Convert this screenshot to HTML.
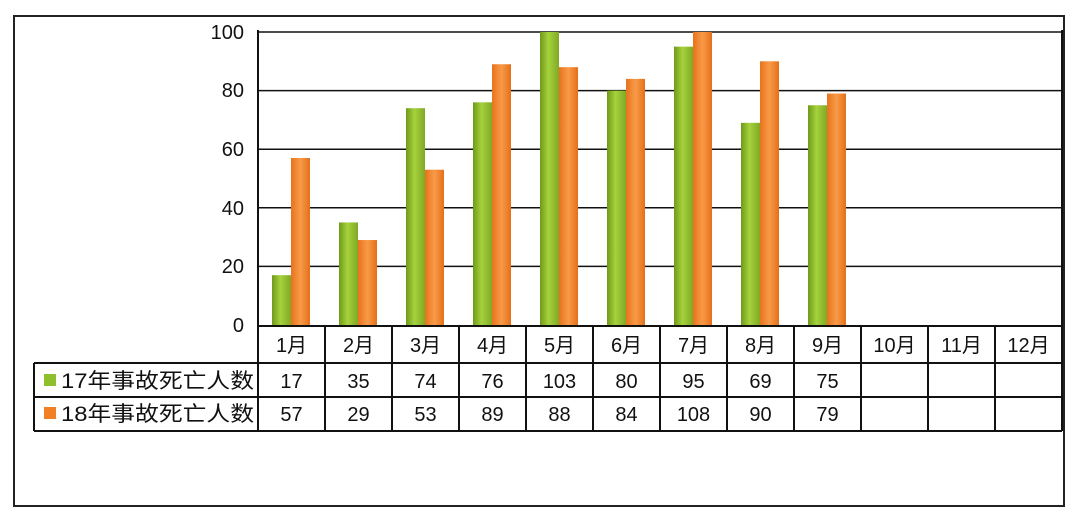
<!DOCTYPE html>
<html><head><meta charset="utf-8"><style>
html,body{margin:0;padding:0;background:#fff;width:1080px;height:524px;overflow:hidden}
text{font-family:"Liberation Sans","Noto Sans CJK SC",sans-serif;fill:#111}
</style></head><body>
<svg width="1080" height="524" viewBox="0 0 1080 524" xmlns="http://www.w3.org/2000/svg">
<defs>
<linearGradient id="g" x1="0" x2="1" y1="0" y2="0"><stop offset="0" stop-color="#6f9a1a"/><stop offset="0.45" stop-color="#a6d23c"/><stop offset="1" stop-color="#7fa925"/></linearGradient>
<linearGradient id="o" x1="0" x2="1" y1="0" y2="0"><stop offset="0" stop-color="#e8731c"/><stop offset="0.5" stop-color="#f89a48"/><stop offset="1" stop-color="#e5701a"/></linearGradient>
</defs>
<rect x="14" y="16" width="1050" height="490" fill="none" stroke="#222" stroke-width="2"/>
<g stroke="#111" stroke-width="1.5">
<line x1="258" y1="32" x2="1062" y2="32"/>
<line x1="258" y1="90.6" x2="1062" y2="90.6"/>
<line x1="258" y1="149.2" x2="1062" y2="149.2"/>
<line x1="258" y1="207.8" x2="1062" y2="207.8"/>
<line x1="258" y1="266.4" x2="1062" y2="266.4"/>
</g>
<g font-size="20" text-anchor="end">
<text x="244" y="39">100</text><text x="244" y="97">80</text><text x="244" y="156">60</text><text x="244" y="215">40</text><text x="244" y="273">20</text><text x="244" y="332">0</text>
</g>
<g fill="url(#g)">
<rect x="272" y="275.19" width="19" height="49.81"/>
<rect x="339" y="222.45" width="19" height="102.55"/>
<rect x="406" y="108.18" width="19" height="216.82"/>
<rect x="473" y="102.32" width="19" height="222.68"/>
<rect x="540" y="32" width="19" height="293"/>
<rect x="607" y="90.6" width="19" height="234.4"/>
<rect x="674" y="46.65" width="19" height="278.35"/>
<rect x="741" y="122.83" width="19" height="202.17"/>
<rect x="808" y="105.25" width="19" height="219.75"/>
</g>
<g fill="url(#o)">
<rect x="291" y="157.99" width="19" height="167.01"/>
<rect x="358" y="240.03" width="19" height="84.97"/>
<rect x="425" y="169.71" width="19" height="155.29"/>
<rect x="492" y="64.23" width="19" height="260.77"/>
<rect x="559" y="67.16" width="19" height="257.84"/>
<rect x="626" y="78.88" width="19" height="246.12"/>
<rect x="693" y="32" width="19" height="293"/>
<rect x="760" y="61.3" width="19" height="263.7"/>
<rect x="827" y="93.53" width="19" height="231.47"/>
</g>
<g stroke="#111" stroke-width="2" fill="none">
<line x1="258" y1="30" x2="258" y2="431"/>
<line x1="258" y1="326" x2="1062" y2="326"/>
<line x1="1062" y1="30" x2="1062" y2="431"/>
<line x1="34" y1="363" x2="1062" y2="363"/>
<line x1="34" y1="397" x2="1062" y2="397"/>
<line x1="34" y1="431" x2="1062" y2="431"/>
<line x1="34" y1="363" x2="34" y2="431"/>
<line x1="325" y1="326" x2="325" y2="431"/>
<line x1="392" y1="326" x2="392" y2="431"/>
<line x1="459" y1="326" x2="459" y2="431"/>
<line x1="526" y1="326" x2="526" y2="431"/>
<line x1="593" y1="326" x2="593" y2="431"/>
<line x1="660" y1="326" x2="660" y2="431"/>
<line x1="727" y1="326" x2="727" y2="431"/>
<line x1="794" y1="326" x2="794" y2="431"/>
<line x1="861" y1="326" x2="861" y2="431"/>
<line x1="928" y1="326" x2="928" y2="431"/>
<line x1="995" y1="326" x2="995" y2="431"/>
</g>
<g font-size="20" text-anchor="middle">
<text x="291.5" y="352">1月</text><text x="358.5" y="352">2月</text><text x="425.5" y="352">3月</text><text x="492.5" y="352">4月</text><text x="559.5" y="352">5月</text><text x="626.5" y="352">6月</text><text x="693.5" y="352">7月</text><text x="760.5" y="352">8月</text><text x="827.5" y="352">9月</text><text x="894.5" y="352">10月</text><text x="961.5" y="352">11月</text><text x="1028.5" y="352">12月</text>
<text x="291.5" y="388">17</text><text x="358.5" y="388">35</text><text x="425.5" y="388">74</text><text x="492.5" y="388">76</text><text x="559.5" y="388">103</text><text x="626.5" y="388">80</text><text x="693.5" y="388">95</text><text x="760.5" y="388">69</text><text x="827.5" y="388">75</text>
<text x="291.5" y="421">57</text><text x="358.5" y="421">29</text><text x="425.5" y="421">53</text><text x="492.5" y="421">89</text><text x="559.5" y="421">88</text><text x="626.5" y="421">84</text><text x="693.5" y="421">108</text><text x="760.5" y="421">90</text><text x="827.5" y="421">79</text>
</g>
<rect x="44" y="374" width="12" height="12" fill="#8fbf2c"/>
<rect x="44" y="407" width="12" height="12" fill="#f07f26"/>
<text x="61" y="388" font-size="21" textLength="193" lengthAdjust="spacingAndGlyphs">17年事故死亡人数</text>
<text x="61" y="421" font-size="21" textLength="193" lengthAdjust="spacingAndGlyphs">18年事故死亡人数</text>
</svg>
</body></html>
